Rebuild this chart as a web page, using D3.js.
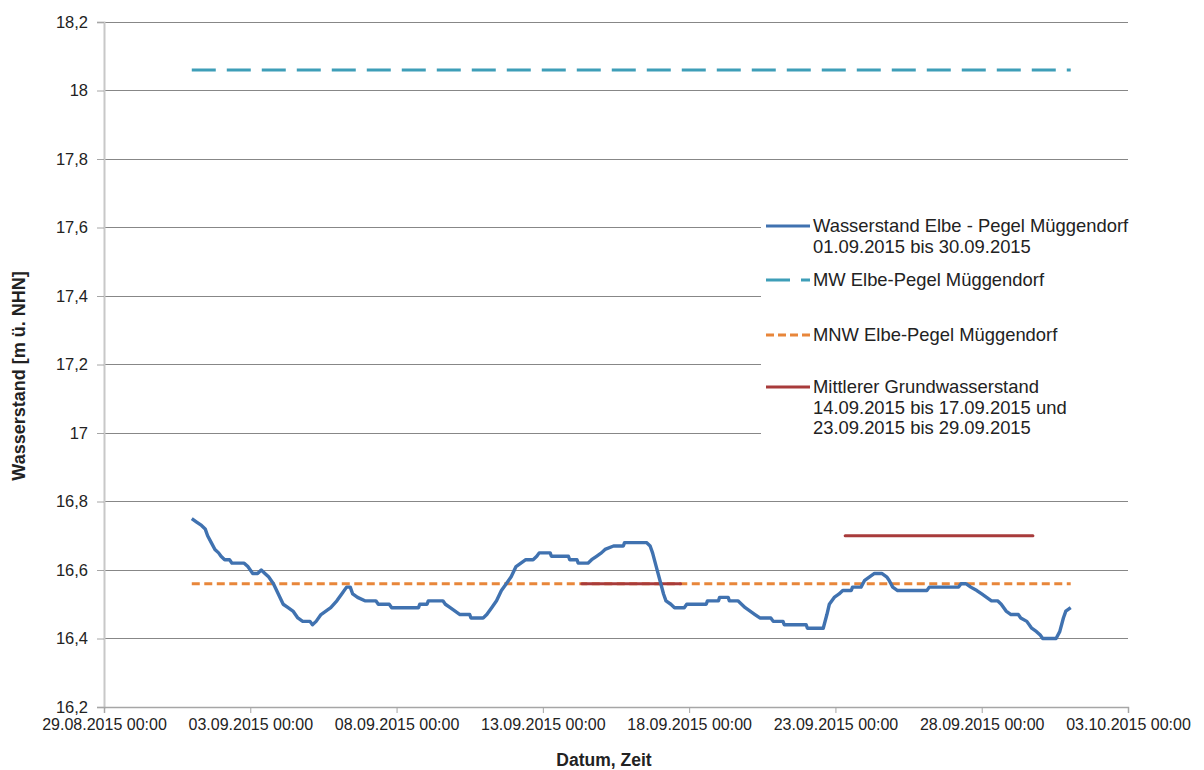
<!DOCTYPE html>
<html><head><meta charset="utf-8">
<script src="https://cdn.jsdelivr.net/npm/d3@7"></script>
<style>body{margin:0;background:#fff}svg{display:block}text{font-family:"Liberation Sans",Arial,sans-serif}</style>
</head><body>
<svg id="c" width="1204" height="770"></svg>
<script>
// hours after 01.09.2015 00:00 and water level [m ü. NHN]
const levelHours = [0,4,8,11,13,16,19,22,24,27,31,33,43,46,50,54,57,60,63,67,71,75,79,83,87,91,97,99,102,106,110,114,119,123,127,130,132,136,142,151,153,162,164,186,187,193,194,206,208,212,216,220,228,229,239,242,246,250,254,258,262,266,270,274,280,283,285,294,295,309,310,316,317,325,328,332,336,339,346,354,355,373,376,378,381,384,387,389,393,396,404,406,422,423,432,433,440,441,448,451,454,458,462,466,475,477,485,486,504,505,518,521,523,527,531,534,541,542,549,552,556,560,566,570,572,575,579,603,605,629,631,635,639,644,648,652,656,661,664,668,672,678,680,685,689,693,696,698,709,712,715,717,721];
const levelValues = [16.75,16.74,16.73,16.72,16.70,16.68,16.66,16.65,16.64,16.63,16.63,16.62,16.62,16.61,16.59,16.59,16.60,16.59,16.58,16.56,16.53,16.50,16.49,16.48,16.46,16.45,16.45,16.44,16.45,16.47,16.48,16.49,16.51,16.53,16.55,16.55,16.53,16.52,16.51,16.51,16.50,16.50,16.49,16.49,16.50,16.50,16.51,16.51,16.50,16.49,16.48,16.47,16.47,16.46,16.46,16.47,16.49,16.51,16.54,16.56,16.58,16.61,16.62,16.63,16.63,16.64,16.65,16.65,16.64,16.64,16.63,16.63,16.62,16.62,16.63,16.64,16.65,16.66,16.67,16.67,16.68,16.68,16.67,16.65,16.61,16.57,16.53,16.51,16.50,16.49,16.49,16.50,16.50,16.51,16.51,16.52,16.52,16.51,16.51,16.50,16.49,16.48,16.47,16.46,16.46,16.45,16.45,16.44,16.44,16.43,16.43,16.47,16.50,16.52,16.53,16.54,16.54,16.55,16.55,16.57,16.58,16.59,16.59,16.58,16.57,16.55,16.54,16.54,16.55,16.55,16.56,16.56,16.55,16.54,16.53,16.52,16.51,16.51,16.50,16.48,16.47,16.47,16.46,16.45,16.43,16.42,16.41,16.40,16.40,16.42,16.46,16.48,16.49];
const mwLevel = 18.06;
const mnwLevel = 16.56;
const refStartHour = 0, refEndHour = 721;
const gwPeriods = [
  {startHour: 320, endHour: 401, value: 16.56},
  {startHour: 536, endHour: 690, value: 16.70}
];
const yTicks = [16.2,16.4,16.6,16.8,17,17.2,17.4,17.6,17.8,18,18.2];
const xTickDates = ["2015-08-29","2015-09-03","2015-09-08","2015-09-13","2015-09-18","2015-09-23","2015-09-28","2015-10-03"];
const legendItems = [
  {lines:["Wasserstand Elbe - Pegel Müggendorf","01.09.2015 bis 30.09.2015"], color:"#4072B0", dash:null},
  {lines:["MW Elbe-Pegel Müggendorf"], color:"#3E9EB8", dash:"24,11"},
  {lines:["MNW Elbe-Pegel Müggendorf"], color:"#E8863A", dash:"8,4"},
  {lines:["Mittlerer Grundwasserstand","14.09.2015 bis 17.09.2015 und","23.09.2015 bis 29.09.2015"], color:"#A83B3B", dash:null}
];

const svg = d3.select("#c");
const parse = d3.timeParse("%Y-%m-%d");
const t0 = new Date(2015,8,1,0,0);
const hourToDate = h => new Date(t0.getTime() + h*3600000);
const L=104, R=1128, T=22, B=707;
const x = d3.scaleTime().domain([new Date(2015,7,29), new Date(2015,9,3)]).range([L,R]);
const y = d3.scaleLinear().domain([16.2,18.2]).range([B,T]);

// gridlines
svg.append("g").selectAll("line").data(yTicks.slice(1)).join("line")
  .attr("x1",L).attr("x2",R).attr("y1",d=>y(d)).attr("y2",d=>y(d))
  .attr("stroke","#878787").attr("stroke-width",1).attr("shape-rendering","crispEdges");

const fmtNum = d => String(d).replace(".",",");
// y axis
const ya = svg.append("g").attr("transform",`translate(${L},0)`)
  .call(d3.axisLeft(y).tickValues(yTicks).tickFormat(fmtNum).tickSize(7).tickPadding(9));
ya.select(".domain").attr("stroke","#C8C8C8").attr("stroke-width",2);
ya.selectAll(".tick line").attr("stroke","#A6A6A6");
ya.selectAll(".tick text").attr("font-size",16.5).attr("fill","#222").attr("font-family","Liberation Sans, Arial, sans-serif");

// x axis
const xa = svg.append("g").attr("transform",`translate(0,${B})`)
  .call(d3.axisBottom(x).tickValues(xTickDates.map(parse)).tickFormat(d3.timeFormat("%d.%m.%Y %H:%M")).tickSize(6).tickPadding(6));
xa.select(".domain").attr("stroke","#A6A6A6").attr("stroke-width",1.5);
xa.selectAll(".tick line").attr("stroke","#A6A6A6");
xa.selectAll(".tick text").attr("font-size",16).attr("fill","#222").attr("font-family","Liberation Sans, Arial, sans-serif");

// reference lines
svg.append("line").attr("x1",x(hourToDate(refStartHour))).attr("x2",x(hourToDate(refEndHour)))
  .attr("y1",y(mwLevel)).attr("y2",y(mwLevel)).attr("stroke",legendItems[1].color).attr("stroke-width",3).attr("stroke-dasharray","24,11");
svg.append("line").attr("x1",x(hourToDate(refStartHour))).attr("x2",x(hourToDate(refEndHour)))
  .attr("y1",y(mnwLevel)).attr("y2",y(mnwLevel)).attr("stroke",legendItems[2].color).attr("stroke-width",3).attr("stroke-dasharray","8,4.5");

// groundwater periods
svg.append("g").selectAll("line").data(gwPeriods).join("line")
  .attr("x1",d=>x(hourToDate(d.startHour))).attr("x2",d=>x(hourToDate(d.endHour)))
  .attr("y1",d=>y(d.value)).attr("y2",d=>y(d.value))
  .attr("stroke",legendItems[3].color).attr("stroke-width",3).attr("stroke-linecap","round");

// water level
const pts = levelHours.map((h,i)=>[hourToDate(h), levelValues[i]]);
svg.append("path").datum(pts)
  .attr("d", d3.line().x(d=>x(d[0])).y(d=>y(d[1])))
  .attr("fill","none").attr("stroke",legendItems[0].color).attr("stroke-width",3.4).attr("stroke-linejoin","round");

// legend
svg.append("rect").attr("x",761).attr("y",212).attr("width",420).attr("height",232).attr("fill","#fff");
const legY = [226, 280, 335, 387];
const lg = svg.append("g");
legendItems.forEach((it,i)=>{
  lg.append("line").attr("x1",766).attr("x2",810).attr("y1",legY[i]).attr("y2",legY[i])
    .attr("stroke",it.color).attr("stroke-width",3).attr("stroke-dasharray",it.dash||null);
  it.lines.forEach((s,j)=>{
    lg.append("text").attr("x",813).attr("y",legY[i]+j*20.5).attr("dy","0.35em")
      .attr("font-size",18.4).attr("fill","#222").text(s);
  });
});

// axis titles
svg.append("text").attr("transform","translate(25,376) rotate(-90)").attr("text-anchor","middle")
  .attr("font-size",18).attr("font-weight","bold").attr("fill","#222").text("Wasserstand [m ü. NHN]");
svg.append("text").attr("x",604).attr("y",766).attr("text-anchor","middle")
  .attr("font-size",17.5).attr("font-weight","bold").attr("fill","#222").text("Datum, Zeit");
</script>
</body></html>
